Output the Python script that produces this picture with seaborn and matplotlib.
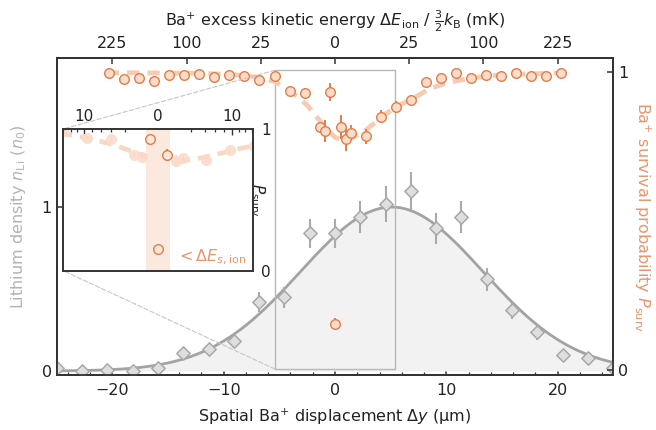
import numpy as np
import matplotlib
matplotlib.use("Agg")
import matplotlib.pyplot as plt
from matplotlib.patches import Rectangle, ConnectionPatch
from matplotlib.ticker import MultipleLocator, FixedLocator, NullLocator
import seaborn as sns

# --- Lithium density (left axis) ---
li_dy = [-25.0, -22.73, -20.45, -18.18, -15.91, -13.64, -11.36, -9.09, -6.82, -4.55, -2.27, 0.0,
         2.27, 4.55, 6.82, 9.09, 11.36, 13.64, 15.91, 18.18, 20.45, 22.73, 25.0]
li_n = [0.018, 0.0, 0.006, 0.0, 0.02, 0.11, 0.134, 0.183, 0.42, 0.45, 0.84, 0.84,
        0.94, 1.02, 1.10, 0.87, 0.94, 0.56, 0.37, 0.24, 0.10, 0.08, 0.02]
li_err = [0.012, 0.012, 0.012, 0.012, 0.015, 0.03, 0.03, 0.045, 0.06, 0.065, 0.09, 0.09,
          0.10, 0.11, 0.115, 0.095, 0.10, 0.07, 0.05, 0.05, 0.03, 0.025, 0.015]

# gaussian fit of the density profile
fit_amp = 1.0
fit_center = 5.1
fit_sigma = 8.2

# --- Ba+ survival probability (right axis) ---
ba_dy = [-20.3, -18.95, -17.6, -16.25, -14.9, -13.55, -12.2, -10.85, -9.5, -8.15, -6.8, -5.4,
         -4.05, -2.7, -1.35, -0.9, -0.45, 0.0, 0.5, 1.0, 1.4, 2.75, 4.1, 5.45, 6.8, 8.15,
         9.5, 10.85, 12.2, 13.55, 14.9, 16.25, 17.6, 18.95, 20.3]
ba_p = [0.995, 0.975, 0.978, 0.970, 0.989, 0.989, 0.991, 0.983, 0.989, 0.986, 0.972, 0.986,
        0.936, 0.930, 0.816, 0.801, 0.932, 0.153, 0.816, 0.773, 0.795, 0.784, 0.849, 0.883,
        0.905, 0.966, 0.978, 0.997, 0.980, 0.989, 0.986, 0.995, 0.986, 0.986, 0.997]
ba_err = [0.008, 0.008, 0.008, 0.008, 0.008, 0.008, 0.008, 0.008, 0.008, 0.008, 0.01, 0.01,
          0.017, 0.017, 0.017, 0.036, 0.03, 0.02, 0.04, 0.04, 0.025, 0.025, 0.022, 0.02,
          0.017, 0.012, 0.01, 0.008, 0.008, 0.008, 0.008, 0.008, 0.008, 0.008, 0.008]

# survival fit curve
surv_fit_dy = [-20.5, -12, -9, -7, -5.5, -4.5, -3.5, -2.5, -1.5, -0.7, 0, 0.7, 1.5, 2.5,
               3.5, 4.5, 5.5, 7, 8.5, 10, 12, 15, 20.5]
surv_fit_p = [0.997, 0.995, 0.99, 0.982, 0.968, 0.948, 0.92, 0.888, 0.842, 0.805, 0.78, 0.77,
              0.778, 0.797, 0.826, 0.857, 0.882, 0.91, 0.943, 0.962, 0.978, 0.99, 0.996]

# top axis: excess kinetic energy (mK), E = 225 (dy/20)^2
energy_labels = ["225", "100", "25", "0", "25", "100", "225"]
energy_dy = [-20.0, -13.33, -6.67, 0.0, 6.67, 13.33, 20.0]
inset_energy_labels = ["10", "0", "10"]
inset_energy_dy = [-4.216, 0.0, 4.216]
inset_minor_energy = [2, 4, 6, 8, 12, 14, 16]

zoom_half = 5.4
band_half = 0.68

GREY_EDGE = "#a8a8a8"
GREY_FACE = "#dedede"
ORANGE = "#e27d48"
PEACH = "#fbdccb"
PEACH_LINE = "#f5cbb1"
DASH = (0, (2.6, 1.7))

sns.set_theme(style="ticks")
plt.rcParams["font.family"] = ["DejaVu Sans"]
plt.rcParams["mathtext.fontset"] = "dejavusans"
plt.rcParams["font.size"] = 11.5
plt.rcParams["axes.linewidth"] = 1.3
plt.rcParams["axes.edgecolor"] = "#333333"

fig = plt.figure(figsize=(6.56, 4.30), dpi=100)
ax = fig.add_axes([0.0864, 0.1279, 0.8485, 0.7365])
ax2 = ax.twinx()

# --- density ---
x_fit = np.linspace(-25, 25, 400)
g_fit = fit_amp * np.exp(-0.5 * ((x_fit - fit_center) / fit_sigma) ** 2)
ax.fill_between(x_fit, 0, g_fit, color="#f2f2f2", lw=0, zorder=1)
sns.lineplot(x=x_fit, y=g_fit, ax=ax, color="#a3a3a3", lw=2, zorder=2)
ax.errorbar(li_dy, li_n, yerr=li_err, fmt="none", ecolor="#aaaaaa", elinewidth=1.5, zorder=3)
sns.scatterplot(x=li_dy, y=li_n, ax=ax, marker="D", s=46, color=GREY_FACE,
                edgecolor=GREY_EDGE, linewidth=1.1, zorder=4)

ax.set_xlim(-25, 25)
ax.set_ylim(-0.024, 1.907)
ax.set_yticks([0, 1])
ax.set_yticklabels(["0", "1"])
ax.xaxis.set_major_locator(MultipleLocator(10))
ax.xaxis.set_minor_locator(MultipleLocator(2))
ax.tick_params(axis="both", which="both", direction="in", top=False, right=False,
               labelsize=11.5, colors="#333333", labelcolor="#222222")
ax.tick_params(which="major", length=4.5, width=1.1)
ax.tick_params(which="minor", length=2.5, width=0.9)
ax.tick_params(axis="x", pad=6)
ax.set_xlabel(r"Spatial Ba$^{+}$ displacement $\Delta y$ (µm)", fontsize=11.5, color="#222222", labelpad=6)
ax.set_ylabel(r"Lithium density $n_{\mathrm{Li}}$ ($n_0$)", fontsize=11.5, color="#b3b3b3", labelpad=10)

# --- survival ---
sns.lineplot(x=surv_fit_dy, y=surv_fit_p, ax=ax2, color=PEACH_LINE, lw=3.4,
             linestyle=DASH, zorder=2)
ax2.errorbar(ba_dy, ba_p, yerr=ba_err, fmt="none", ecolor=ORANGE, elinewidth=1.4, zorder=3)
sns.scatterplot(x=ba_dy, y=ba_p, ax=ax2, marker="o", s=48, color=PEACH,
                edgecolor=ORANGE, linewidth=1.0, zorder=4)
ax2.add_patch(Rectangle((-zoom_half, 0.003), 2 * zoom_half, 1.002, fill=False,
                        edgecolor="#b8b8b8", lw=1.0, zorder=1))
ax2.set_ylim(-0.017, 1.045)
ax2.set_yticks([0, 1])
ax2.set_yticklabels(["0", "1"])
ax2.tick_params(axis="y", direction="in", length=4.5, width=1.1, labelsize=11.5,
                colors="#333333", labelcolor="#222222")
ax2.set_ylabel(r"Ba$^{+}$ survival probability $P_{\mathrm{surv}}$", fontsize=11.5,
               color="#ea946a", rotation=270, labelpad=17)

top = ax2.secondary_xaxis("top")
top.set_xticks(energy_dy, labels=energy_labels)
top.tick_params(direction="in", length=4.5, width=1.1, labelsize=11.5, colors="#333333",
                labelcolor="#222222", pad=5)
top.set_xlabel(r"Ba$^{+}$ excess kinetic energy $\Delta E_{\mathrm{ion}}$ / $\frac{3}{2}k_{\mathrm{B}}$ (mK)",
               fontsize=11.5, color="#222222", labelpad=8)

for a in (ax, ax2):
    for sp in a.spines.values():
        sp.set_color("#333333")
        sp.set_linewidth(1.3)

# --- inset ---
ax_in = fig.add_axes([0.0965, 0.3705, 0.2887, 0.3295], zorder=5)
ax_in.set_facecolor("white")
ax_in.axvspan(-band_half, band_half, color="#fbe9df", lw=0, zorder=1.5)
sns.lineplot(x=surv_fit_dy, y=surv_fit_p, ax=ax_in, color=PEACH_LINE, lw=3.4,
             linestyle=DASH, alpha=0.75, zorder=1)
ba_dy_arr = np.array(ba_dy)
ba_p_arr = np.array(ba_p)
ba_err_arr = np.array(ba_err)
inside = np.abs(ba_dy_arr) < band_half
ax_in.errorbar(ba_dy_arr[~inside], ba_p_arr[~inside], yerr=ba_err_arr[~inside], fmt="none",
               ecolor=ORANGE, elinewidth=1.4, alpha=0.3, zorder=2)
sns.scatterplot(x=ba_dy_arr[~inside], y=ba_p_arr[~inside], ax=ax_in, marker="o", s=48,
                color=PEACH, edgecolor=PEACH, linewidth=1.0, alpha=0.9, zorder=2)
ax_in.errorbar(ba_dy_arr[inside], ba_p_arr[inside], yerr=ba_err_arr[inside], fmt="none",
               ecolor=ORANGE, elinewidth=1.4, zorder=3)
sns.scatterplot(x=ba_dy_arr[inside], y=ba_p_arr[inside], ax=ax_in, marker="o", s=48,
                color="#fce6da", edgecolor=ORANGE, linewidth=1.0, zorder=4)
ax_in.text(1.0, 0.097, r"$<\Delta E_{s,\mathrm{ion}}$", color="#ea946a", fontsize=11.5,
           ha="left", va="center")
ax_in.set_xlim(-zoom_half, zoom_half)
ax_in.set_ylim(0, 1)
ax_in.xaxis.tick_top()
ax_in.set_xticks(inset_energy_dy, labels=inset_energy_labels)
minor_pos = [s * 20 * np.sqrt(e / 225.0) for e in inset_minor_energy for s in (-1, 1)]
ax_in.xaxis.set_minor_locator(FixedLocator(sorted(minor_pos)))
ax_in.yaxis.tick_right()
ax_in.set_yticks([0, 1])
ax_in.set_yticklabels(["0", "1"])
ax_in.yaxis.set_minor_locator(NullLocator())
ax_in.tick_params(which="both", direction="in", labelsize=11, colors="#333333", labelcolor="#222222")
ax_in.tick_params(which="major", length=4, width=1.0)
ax_in.tick_params(which="minor", length=2.5, width=0.9)
ax_in.tick_params(axis="y", length=0, pad=6)
ax_in.set_xlabel("")
ax_in.set_ylabel(r"$P_{\mathrm{surv}}$", rotation=270, fontsize=11, color="#222222")
ax_in.yaxis.set_label_position("right")
ax_in.yaxis.set_label_coords(1.075, 0.5)
for sp in ax_in.spines.values():
    sp.set_color("#333333")
    sp.set_linewidth(1.4)

# connectors between zoom box and inset
for ya, yb in ((1.005, 1.0), (0.003, 0.0)):
    con = ConnectionPatch(xyA=(-zoom_half, ya), coordsA=ax2.transData,
                          xyB=(0.0, yb), coordsB=ax_in.transAxes,
                          color="#c6c6c6", lw=0.8, linestyle=(0, (4, 2)), zorder=0.5)
    fig.add_artist(con)

fig.savefig("out.png", dpi=100)
